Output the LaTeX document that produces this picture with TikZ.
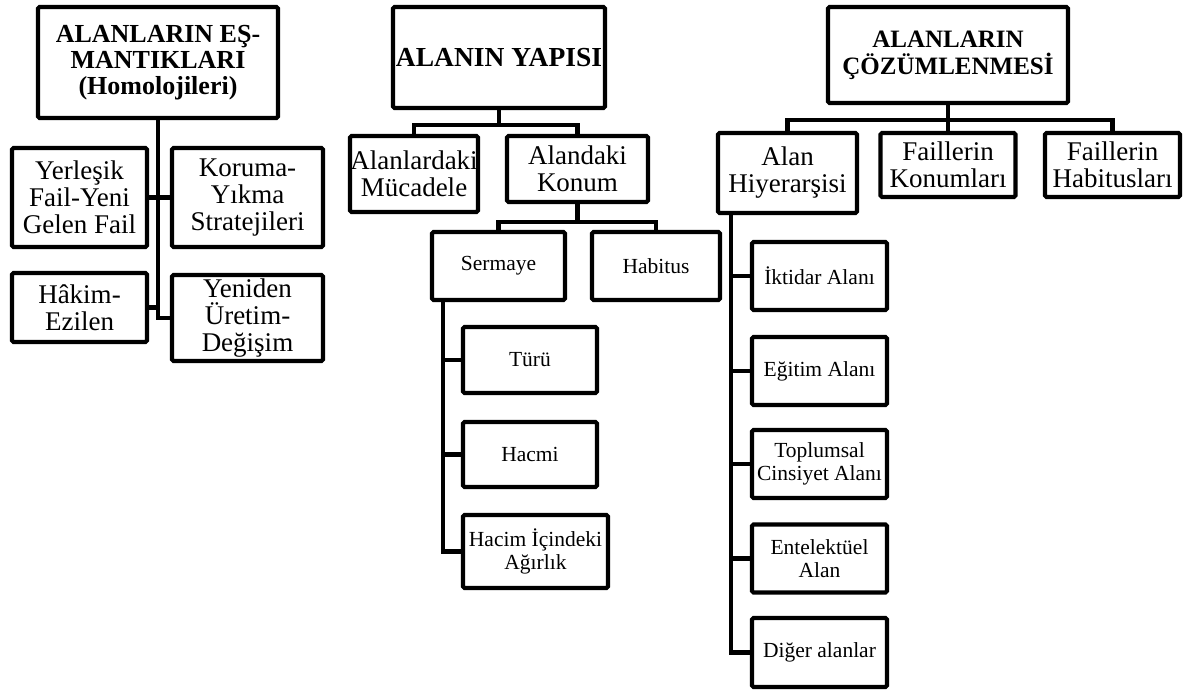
\documentclass[tikz,border=0pt]{standalone}
\usepackage{fontspec}
\setmainfont{Liberation Serif}

\begin{document}
\begin{tikzpicture}[x=1pt,y=-1pt]
        \tikzstyle{every node}=[draw,line width=4.2pt,rounded corners=1.5pt,align=center,inner sep=0pt]
        \tikzstyle{baslik}=[font=\fontsize{26}{26}\selectfont\bfseries]
        \tikzstyle{orta}=[font=\fontsize{27}{27}\selectfont]
        \tikzstyle{kucuk}=[font=\fontsize{21.5}{23}\selectfont]
        \tikzstyle{hat}=[line width=4.2pt]
        \useasboundingbox (0,0) rectangle (1192,691);
        % sol agac
        \node[baslik,minimum width=240,minimum height=111] (e1) at (158,62.5) {ALANLARIN EŞ-\\MANTIKLARI\\(Homolojileri)};
        \node[orta,minimum width=135,minimum height=99] (e2) at (79.5,197.5) {Yerleşik\\Fail-Yeni\\Gelen Fail};
        \node[orta,minimum width=151,minimum height=99] (e3) at (247.5,197.5) {Koruma-\\Yıkma\\Stratejileri};
        \node[orta,minimum width=135,minimum height=69] (e4) at (79.5,307.5) {Hâkim-\\Ezilen};
        \node[orta,minimum width=151,minimum height=86] (e5) at (247.5,318) {Yeniden\\Üretim-\\Değişim};
        \draw[hat] (e1.south) |- (e5.west);
        \draw[hat] (e2.east) -- (e2.east -| e1.south);
        \draw[hat] (e3.west) -- (e3.west -| e1.south);
        \draw[hat] (e4.east) -- (e4.east -| e1.south);
        % orta agac
        \node[baslik,font=\fontsize{27.5}{27.5}\selectfont\bfseries,minimum width=212,minimum height=101] (y1) at (499,57.5) {ALANIN YAPISI};
        \node[orta,minimum width=128,minimum height=76] (y2) at (414,174) {Alanlardaki\\Mücadele};
        \node[orta,minimum width=141,minimum height=66] (y3) at (577.5,169) {Alandaki\\Konum};
        \node[kucuk,minimum width=133,minimum height=68] (y4) at (498.5,266) {Sermaye};
        \node[kucuk,minimum width=128,minimum height=68] (y5) at (656,266) {Habitus};
        \node[kucuk,minimum width=134,minimum height=66] (y6) at (530,360) {Türü};
        \node[kucuk,minimum width=134,minimum height=65] (y7) at (530,454.5) {Hacmi};
        \node[kucuk,minimum width=145,minimum height=73] (y8) at (535.5,551.5) {Hacim İçindeki\\Ağırlık};
        \draw[hat] (y1.south) -- ++(0,15) coordinate (c1) -| (y2.north);
        \draw[hat] (c1) -| (y3.north);
        \draw[hat] (y3.south) -- ++(0,18) coordinate (c2) -| (y4.north);
        \draw[hat] (c2) -| (y5.north);
        \foreach \k in {y6,y7,y8}
            \draw[hat] ([xshift=13pt]y4.south west) |- (\k.west);
        % sag agac
        \node[baslik,font=\fontsize{25}{27}\selectfont\bfseries,minimum width=240,minimum height=96] (z1) at (948,55) {ALANLARIN\\ÇÖZÜMLENMESİ};
        \node[orta,minimum width=139,minimum height=80] (z2) at (787.5,173) {Alan\\Hiyerarşisi};
        \node[orta,minimum width=135,minimum height=64] (z3) at (948,165) {Faillerin\\Konumları};
        \node[orta,minimum width=135,minimum height=64] (z4) at (1112.5,165) {Faillerin\\Habitusları};
        \node[kucuk,minimum width=135,minimum height=68] (z5) at (819.5,276) {İktidar Alanı};
        \node[kucuk,minimum width=135,minimum height=68] (z6) at (819.5,371) {Eğitim Alanı};
        \node[kucuk,minimum width=135,minimum height=68] (z7) at (819.5,464) {Toplumsal\\Cinsiyet Alanı};
        \node[kucuk,minimum width=135,minimum height=68] (z8) at (819.5,558.5) {Entelektüel\\Alan};
        \node[kucuk,minimum width=135,minimum height=69] (z9) at (819.5,652.5) {Diğer alanlar};
        \draw[hat] (z1.south) -- ++(0,15) coordinate (c3) -| (z2.north);
        \draw[hat] (c3) -| (z4.north);
        \draw[hat] (c3) -- (z3.north);
        \foreach \k in {z5,z6,z7,z8,z9}
            \draw[hat] ([xshift=15pt]z2.south west) |- (\k.west);
    \end{tikzpicture}
\end{document}
